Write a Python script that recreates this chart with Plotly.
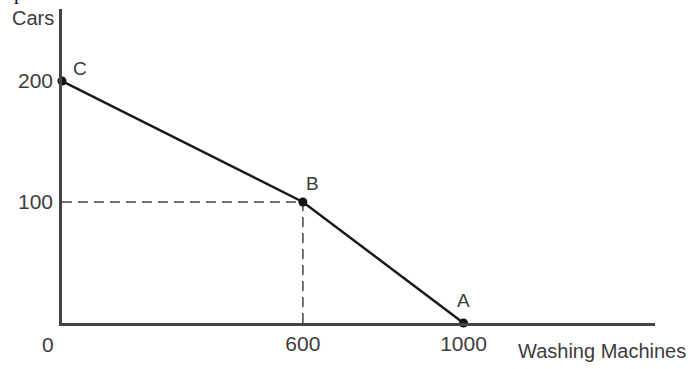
import plotly.graph_objects as go

# Data
point_labels = ["C", "B", "A"]
washing_machines = [0, 600, 1000]
cars = [200, 100, 0]
x_ticks = [600, 1000]
y_ticks = [100, 200]
x_title = "Washing Machines"
y_title = "Cars"

FONT = "Liberation Sans, Arial, sans-serif"
TXT = "#3c3c3c"

fig = go.Figure()

# dashed guide lines to point B
bx, by = washing_machines[1], cars[1]
fig.add_trace(go.Scatter(x=[0, bx], y=[by, by], mode="lines",
                         line=dict(color="#444", width=1.5, dash="10px,6px"),
                         hoverinfo="skip", showlegend=False))
fig.add_trace(go.Scatter(x=[bx, bx], y=[0, by], mode="lines",
                         line=dict(color="#444", width=1.5, dash="10px,6px"),
                         hoverinfo="skip", showlegend=False))

# production possibility frontier
fig.add_trace(go.Scatter(x=washing_machines, y=cars, mode="lines+markers",
                         line=dict(color="#1a1a1a", width=2.5),
                         marker=dict(color="#111", size=9),
                         cliponaxis=False, showlegend=False))

annotations = []
shifts = {"C": (18, 13), "B": (10, 19), "A": (0, 23)}
for lab, xv, yv in zip(point_labels, washing_machines, cars):
    dx, dy = shifts[lab]
    annotations.append(dict(x=xv, y=yv, xref="x", yref="y", text=lab,
                            showarrow=False, xshift=dx, yshift=dy,
                            xanchor="center", yanchor="middle",
                            font=dict(family=FONT, size=19, color=TXT)))
annotations.append(dict(x=0, y=0, xref="x", yref="y", text="0", showarrow=False,
                        xshift=-14, yshift=-21, xanchor="center", yanchor="middle",
                        font=dict(family=FONT, size=21, color=TXT)))
annotations.append(dict(x=0, y=1, xref="x", yref="paper", text=y_title,
                        showarrow=False, xshift=-29, yshift=-9,
                        xanchor="center", yanchor="middle",
                        font=dict(family=FONT, size=20, color=TXT)))
annotations.append(dict(x=1, y=0, xref="paper", yref="paper", text=x_title,
                        showarrow=False, xanchor="right", yanchor="middle",
                        xshift=33, yshift=-28,
                        font=dict(family=FONT, size=20, color=TXT)))
annotations.append(dict(x=0, y=1, xref="paper", yref="paper", text="p",
                        showarrow=False, xanchor="left", yanchor="bottom",
                        xshift=-50, yshift=3,
                        font=dict(family="Liberation Serif, Times New Roman, serif", size=20, color="#111")))

fig.update_layout(
    width=692, height=369,
    margin=dict(l=62, r=37, t=9, b=46),
    paper_bgcolor="white", plot_bgcolor="white",
    annotations=annotations,
    xaxis=dict(range=[0, 1477], tickvals=x_ticks, ticktext=[str(v) for v in x_ticks],
               showgrid=False, zeroline=False, showline=True, linecolor="#444",
               linewidth=2.5, ticks="", ticklabelstandoff=0,
               tickfont=dict(family=FONT, size=21, color=TXT)),
    yaxis=dict(range=[0, 259.5], tickvals=y_ticks, ticktext=[str(v) for v in y_ticks],
               showgrid=False, zeroline=False, showline=True, linecolor="#444",
               linewidth=2.5, ticks="", ticklabelstandoff=2,
               tickfont=dict(family=FONT, size=21, color=TXT)),
)

fig.write_html("out.html", config={"displayModeBar": False},
               post_script="document.body.style.margin='0';")
